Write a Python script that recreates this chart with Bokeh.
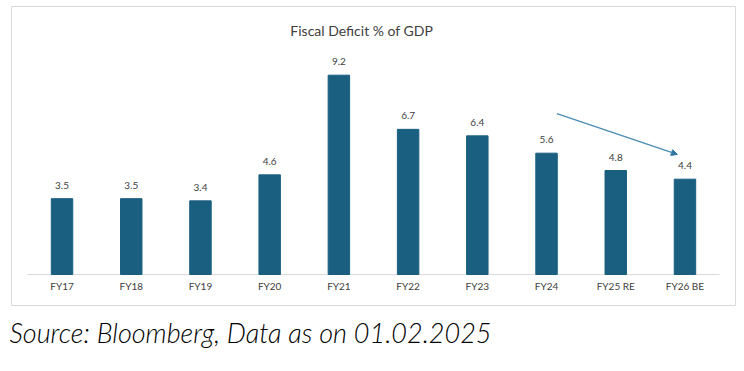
from bokeh.plotting import figure
from bokeh.models import FactorRange, Range1d, Arrow, NormalHead, Title, ColumnDataSource
from bokeh.embed import file_html
from bokeh.resources import INLINE
from bokeh.core.properties import value

categories = ["FY17", "FY18", "FY19", "FY20", "FY21", "FY22", "FY23", "FY24", "FY25 RE", "FY26 BE"]
deficit = [3.5, 3.5, 3.4, 4.6, 9.2, 6.7, 6.4, 5.6, 4.8, 4.4]
value_labels = ["3.5", "3.5", "3.4", "4.6", "9.2", "6.7", "6.4", "5.6", "4.8", "4.4"]
chart_title = "Fiscal Deficit % of GDP"
source_note = "Source: Bloomberg, Data as on 01.02.2025"

BAR = "#1a5f80"
TXT = "#404040"
FONT = "Lato"

src = ColumnDataSource(dict(cat=categories, val=deficit, lab=value_labels))

p = figure(
    width=740, height=362,
    x_range=FactorRange(factors=categories, range_padding=0.23, range_padding_units="absolute"),
    y_range=Range1d(-1.43, 12.37),
    output_backend="svg", toolbar_location=None,
    min_border_left=11, min_border_right=5, min_border_top=6, min_border_bottom=57,
)
p.outline_line_color = "#d9d9d9"
p.outline_line_width = 1
p.grid.visible = False
p.yaxis.visible = False
p.background_fill_color = "white"
p.border_fill_color = "white"

xa = p.xaxis[0]
xa.fixed_location = 0
xa.axis_line_color = None
xa.major_tick_line_color = None
xa.minor_tick_line_color = None
xa.major_tick_out = 0
xa.major_tick_in = 0
xa.major_label_standoff = 5
xa.major_label_text_font = FONT
xa.major_label_text_font_size = "10px"
xa.major_label_text_color = TXT

# baseline spanning the categories
p.line(x=[(categories[0], -0.5), (categories[-1], 0.5)], y=[0, 0], line_color="#d9d9d9", line_width=1)

p.vbar(x="cat", top="val", width=0.31, source=src, fill_color=BAR, line_color=BAR)

p.text(x="cat", y="val", text="lab", source=src, text_align="center", text_baseline="bottom",
       y_offset=-10, text_font=value(FONT), text_font_size="10px", text_color=TXT)

# chart title inside the box
p.text(x=[(categories[4], 0.33)], y=[p.y_range.end], text=[chart_title], text_align="center",
       text_baseline="middle", y_offset=24, text_font=value(FONT), text_font_size="14px",
       text_color=TXT)

# trend arrow from FY24 towards FY26 BE
i0 = categories.index("FY24") + 0.5
i1 = categories.index("FY26 BE") + 0.5
p.add_layout(Arrow(
    x_start=i0 + 0.15, y_start=deficit[7] + 1.83,
    x_end=i1 - 0.11, y_end=deficit[9] + 1.14,
    line_color="#4a8db5", line_width=1.3,
    end=NormalHead(size=6, fill_color="#2f77a3", line_color="#2f77a3"),
))

p.add_layout(Title(text=source_note, align="left", text_font="'Lato Light', Lato", text_font_size="27px",
                   text_font_style="italic", text_color="#000000", standoff=17, offset=-2), "below")

open("out.html", "w").write(file_html(p, INLINE))
